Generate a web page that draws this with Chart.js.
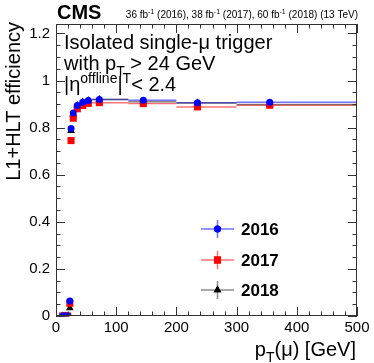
<!DOCTYPE html>
<html>
<head>
<meta charset="utf-8">
<script src="https://cdn.jsdelivr.net/npm/chart.js@4.4.0/dist/chart.umd.min.js"></script>
<style>
  body { margin: 0; background: #fff; }
  canvas { display: block; }
</style>
</head>
<body>
<canvas id="chart" width="374" height="363"></canvas>
<script>
// pT bins (GeV): point position = mean pT in bin, error bar = bin edges
const ptCenter = [11, 15, 19.5, 23, 25, 28.7, 35.4, 44.4, 53.7, 72, 145, 235, 355];
const ptLow    = [10, 13, 17, 22, 24, 26, 32, 40, 50, 60, 120, 200, 300];
const ptHigh   = [13, 17, 22, 24, 26, 32, 40, 50, 60, 120, 200, 300, 500];

const eff2016 = [0, 0, 0, 0.064, 0.796, 0.862, 0.894, 0.908, 0.915, 0.919, 0.916, 0.906, 0.908];
const eff2017 = [0, 0, 0, 0.054, 0.745, 0.840, 0.880, 0.894, 0.903, 0.906, 0.902, 0.888, 0.895];
const eff2018 = [0, 0, 0, 0.034, 0.787, 0.856, 0.894, 0.908, 0.915, 0.919, 0.910, 0.905, 0.898];

const years = ["2016", "2017", "2018"];
const colors = ["#0000ff", "#ff0000", "#000000"];
const barColors = ["rgba(0,0,255,0.55)", "rgba(255,0,0,0.55)", "rgba(0,0,0,0.45)"];
const markers = ["circle", "rect", "triangle"];
const markerSize = [3.5, 5, 4.5];

const FONT = "'Liberation Sans', Arial, Helvetica, sans-serif";

function points(vals) {
    return vals.map((v, i) => ({ x: ptCenter[i], y: v, lo: ptLow[i], hi: ptHigh[i] }));
}

// draws text made of pieces (normal / sub / superscript)
function richText(ctx, x, y, parts, align) {
    let w = 0;
    parts.forEach(p => {
        ctx.font = (p.bold ? "bold " : "") + p.size + "px " + FONT;
        w += ctx.measureText(p.t).width;
    });
    let cx = align === "right" ? x - w : x;
    parts.forEach(p => {
        ctx.font = (p.bold ? "bold " : "") + p.size + "px " + FONT;
        ctx.fillText(p.t, cx, y + (p.dy || 0));
        cx += ctx.measureText(p.t).width;
    });
}

const errorBars = {
    id: "errorBars",
    beforeDatasetsDraw(chart) {
        const ctx = chart.ctx;
        const xs = chart.scales.x, ys = chart.scales.y;
        ctx.save();
        ctx.lineWidth = 1.5;
        chart.data.datasets.forEach((ds, k) => {
            ctx.strokeStyle = barColors[k];
            ds.data.forEach(p => {
                const y = ys.getPixelForValue(p.y);
                ctx.beginPath();
                ctx.moveTo(xs.getPixelForValue(p.lo), y);
                ctx.lineTo(xs.getPixelForValue(p.hi), y);
                ctx.stroke();
            });
        });
        ctx.restore();
    }
};

const frame = {
    id: "frame",
    afterDraw(chart) {
        const ctx = chart.ctx;
        const a = chart.chartArea;
        const xs = chart.scales.x, ys = chart.scales.y;
        ctx.save();
        ctx.strokeStyle = "#333";
        ctx.lineWidth = 1;
        ctx.strokeRect(a.left + 0.5, a.top + 0.5, a.right - a.left - 1, a.bottom - a.top - 1);

        ctx.beginPath();
        for (let v = 0; v <= 500; v += 20) {
            const x = Math.round(xs.getPixelForValue(v)) + 0.5;
            const len = v % 100 === 0 ? 9 : 4.5;
            ctx.moveTo(x, a.bottom); ctx.lineTo(x, a.bottom - len);
            ctx.moveTo(x, a.top); ctx.lineTo(x, a.top + len);
        }
        for (let i = 0; i <= 24; i++) {
            const v = i * 0.05;
            const y = Math.round(ys.getPixelForValue(v)) + 0.5;
            const len = i % 4 === 0 ? 9 : 4.5;
            ctx.moveTo(a.left, y); ctx.lineTo(a.left + len, y);
            ctx.moveTo(a.right, y); ctx.lineTo(a.right - len, y);
        }
        ctx.stroke();

        ctx.fillStyle = "#000";
        ctx.textBaseline = "alphabetic";
        ctx.textAlign = "left";

        // CMS label and luminosity
        richText(ctx, 57, 19, [{ t: "CMS", size: 20, bold: true }]);
        richText(ctx, 358, 18, [
            { t: "36 fb", size: 10 }, { t: "-1", size: 7, dy: -4 },
            { t: " (2016), 38 fb", size: 10 }, { t: "-1", size: 7, dy: -4 },
            { t: " (2017), 60 fb", size: 10 }, { t: "-1", size: 7, dy: -4 },
            { t: " (2018) (13 TeV)", size: 10 }
        ], "right");

        // selection text
        richText(ctx, 64, 49, [{ t: "Isolated single-\u03bc trigger", size: 20 }]);
        richText(ctx, 64, 70, [
            { t: "with p", size: 20 }, { t: "T", size: 14, dy: 6 }, { t: " > 24 GeV", size: 20 }
        ]);
        richText(ctx, 64, 91, [
            { t: "|\u03b7", size: 20 }, { t: "offline", size: 14, dy: -8 },
            { t: "|", size: 20 }, { t: "T", size: 14, dy: -8 }, { t: "< 2.4", size: 20 }
        ]);

        // axis titles
        richText(ctx, 356, 356, [
            { t: "p", size: 20 }, { t: "T", size: 14, dy: 6 }, { t: "(\u03bc) [GeV]", size: 20 }
        ], "right");
        ctx.save();
        ctx.translate(20, 22);
        ctx.rotate(-Math.PI / 2);
        richText(ctx, 0, 0, [{ t: "L1+HLT efficiency", size: 20 }], "right");
        ctx.restore();

        // legend
        const legY = [229, 260, 290];
        years.forEach((yr, k) => {
            const y = legY[k];
            ctx.strokeStyle = barColors[k];
            ctx.lineWidth = 1.5;
            ctx.beginPath();
            ctx.moveTo(201, y); ctx.lineTo(234, y);
            ctx.moveTo(217.5, y - 9); ctx.lineTo(217.5, y + 9);
            ctx.stroke();
            ctx.fillStyle = colors[k];
            Chart.helpers.drawPoint(ctx, { pointStyle: markers[k], radius: markerSize[k], rotation: 0, borderWidth: 0 }, 217.5, y);
            ctx.fill();
            ctx.fillStyle = "#000";
            ctx.textBaseline = "middle";
            richText(ctx, 241, y + 1, [{ t: yr, size: 17, bold: true }]);
            ctx.textBaseline = "alphabetic";
        });
        ctx.restore();
    }
};

const series = [eff2016, eff2017, eff2018];

new Chart(document.getElementById("chart"), {
    type: "scatter",
    data: {
        datasets: series.map((vals, k) => ({
            label: years[k],
            data: points(vals),
            pointStyle: markers[k],
            pointRadius: markerSize[k],
            pointHoverRadius: markerSize[k],
            backgroundColor: colors[k],
            borderColor: colors[k],
            borderWidth: 0
        }))
    },
    options: {
        responsive: false,
        animation: false,
        events: [],
        layout: { padding: { left: 0, top: 24, right: 17, bottom: 0 } },
        plugins: { legend: { display: false }, tooltip: { enabled: false } },
        scales: {
            x: {
                type: "linear",
                min: 0, max: 500,
                afterFit(s) { s.height = 47; },
                grid: { display: false, drawTicks: false },
                border: { display: false },
                ticks: {
                    stepSize: 100, padding: 3, color: "#000",
                    font: { family: FONT, size: 15 },
                    maxRotation: 0
                }
            },
            y: {
                type: "linear",
                min: 0, max: 1.24,
                afterFit(s) { s.width = 56; },
                grid: { display: false, drawTicks: false },
                border: { display: false },
                ticks: {
                    stepSize: 0.2, padding: 6, color: "#000", includeBounds: false,
                    font: { family: FONT, size: 15 },
                    callback: v => String(+v.toFixed(2))
                }
            }
        }
    },
    plugins: [errorBars, frame]
});
</script>
</body>
</html>
